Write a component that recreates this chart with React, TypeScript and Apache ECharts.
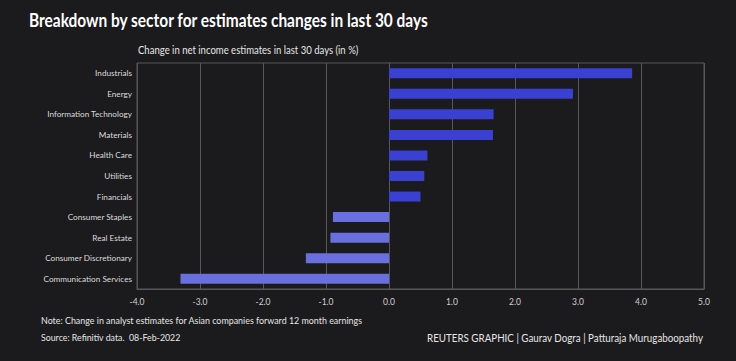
import React, { useEffect, useRef } from "react";
import * as echarts from "echarts";

const categories = [
  "Industrials",
  "Energy",
  "Information Technology",
  "Materials",
  "Health Care",
  "Utilities",
  "Financials",
  "Consumer Staples",
  "Real Estate",
  "Consumer Discretionary",
  "Communication Services",
];
const values = [3.86, 2.92, 1.66, 1.65, 0.61, 0.56, 0.5, -0.89, -0.93, -1.32, -3.31];

const POS = "#3940d2";
const NEG = "#6a6fdf";
const FONT = "Lato, 'Open Sans', sans-serif";

export default function App() {
  const ref = useRef<HTMLDivElement>(null);
  useEffect(() => {
    if (!ref.current) return;
    const chart = echarts.init(ref.current, null, { renderer: "svg" });
    chart.setOption({
      animation: false,
      backgroundColor: "#1b1a1d",
      textStyle: { fontFamily: FONT },
      grid: {
        left: 137,
        right: 32,
        top: 63,
        bottom: 72,
        show: true,
        borderColor: "#58585a",
        borderWidth: 1,
      },
      xAxis: {
        type: "value",
        min: -4,
        max: 5,
        interval: 1,
        axisLine: { show: true, lineStyle: { color: "#58585a" } },
        axisTick: { show: false },
        splitLine: { show: true, lineStyle: { color: "#58585a", width: 1 } },
        axisLabel: {
          color: "#d0d0d0",
          fontSize: 8.5,
          fontFamily: FONT,
          margin: 8,
          formatter: (v: number) => v.toFixed(1),
        },
      },
      yAxis: {
        type: "category",
        inverse: true,
        data: categories,
        axisLine: { show: true, lineStyle: { color: "#58585a" } },
        axisTick: { show: false },
        axisLabel: { color: "#dcdcdc", fontSize: 8.2, fontFamily: FONT, margin: 5 },
      },
      series: [
        {
          type: "bar",
          barWidth: 10,
          data: values.map((v) => ({
            value: v,
            itemStyle: { color: v >= 0 ? POS : NEG },
          })),
        },
      ],
      graphic: [
        {
          type: "text",
          x: 29,
          y: 11,
          scaleX: 0.86,
          style: {
            text: "Breakdown by sector for estimates changes in last 30 days",
            fill: "#ffffff",
            font: `bold 18px ${FONT}`,
          },
        },
        {
          type: "text",
          x: 138,
          y: 44,
          scaleX: 0.91,
          style: {
            text: "Change in net income estimates in last 30 days (in %)",
            fill: "#e6e6e6",
            font: `10.5px ${FONT}`,
          },
        },
        {
          type: "text",
          x: 41,
          y: 315,
          scaleX: 0.89,
          style: {
            text: "Note: Change in analyst estimates for Asian companies forward 12 month earnings",
            fill: "#e6e6e6",
            font: `10px ${FONT}`,
          },
        },
        {
          type: "text",
          x: 41,
          y: 332,
          scaleX: 0.88,
          style: {
            text: "Source: Refinitiv data.  08-Feb-2022",
            fill: "#e6e6e6",
            font: `10px ${FONT}`,
          },
        },
        {
          type: "text",
          x: 703,
          y: 332,
          scaleX: 0.89,
          style: {
            text: "REUTERS GRAPHIC | Gaurav Dogra | Patturaja Murugaboopathy",
            fill: "#e6e6e6",
            font: `11px ${FONT}`,
            align: "right",
          },
        },
      ],
    });
    return () => chart.dispose();
  }, []);
  return (
    <div
      ref={ref}
      style={{ position: "fixed", left: 0, top: 0, width: 736, height: 361 }}
    />
  );
}
